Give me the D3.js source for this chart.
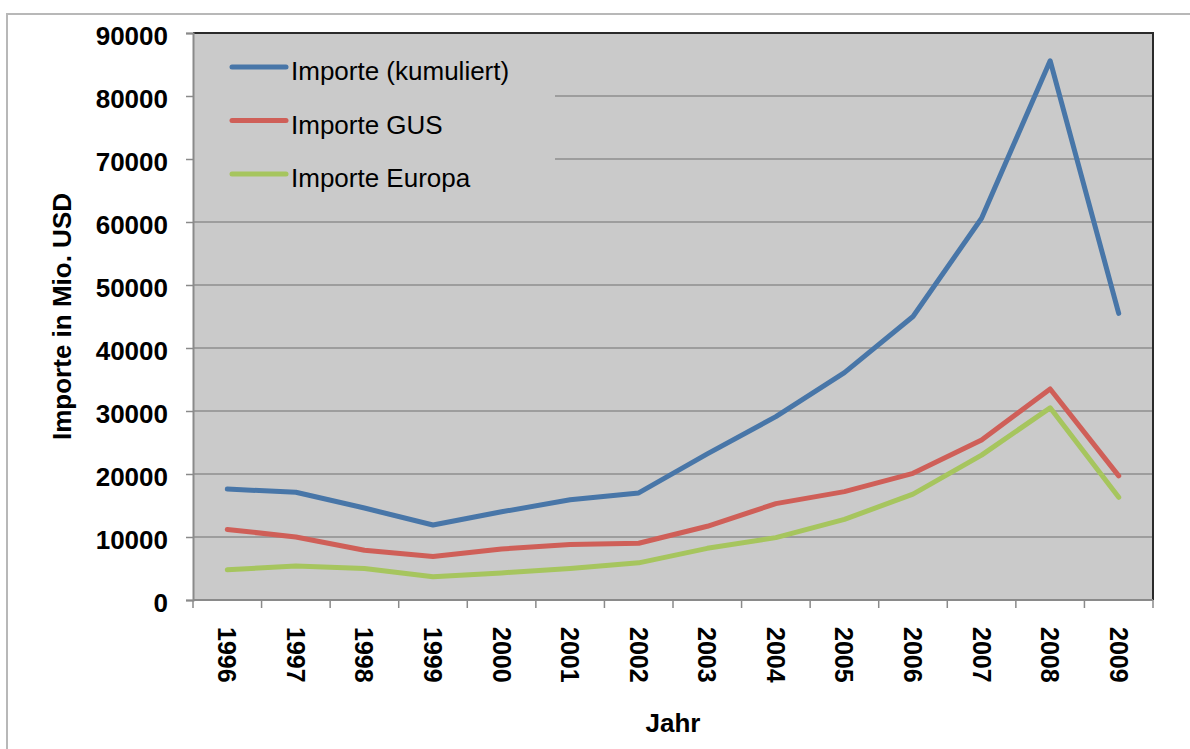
<!DOCTYPE html>
<html>
<head>
  <meta charset="utf-8">
  <title>Importe</title>
  <script src="https://d3js.org/d3.v7.min.js"></script>
  <style>
    body { margin: 0; background: #fff; }
    svg { display: block; font-family: "Liberation Sans", Arial, sans-serif; }
    .tick text { fill: #000; font-weight: bold; }
  </style>
</head>
<body>
  <svg width="1190" height="749"></svg>
  <script>
    const years = ["1996", "1997", "1998", "1999", "2000", "2001", "2002",
                   "2003", "2004", "2005", "2006", "2007", "2008", "2009"];
    const kumuliert = [17600, 17100, 14600, 11900, 14000, 15900, 17000,
                       23200, 29100, 36100, 45000, 60600, 85600, 45500];
    const gus = [11200, 10000, 7900, 6900, 8100, 8800, 9000,
                 11700, 15300, 17200, 20100, 25400, 33500, 19700];
    const europa = [4800, 5400, 5000, 3700, 4300, 5000, 5900,
                    8200, 9900, 12800, 16800, 23000, 30500, 16300];
    const yTicks = [0, 10000, 20000, 30000, 40000, 50000, 60000, 70000, 80000, 90000];

    const series = [
      { name: "Importe (kumuliert)", values: kumuliert, color: "#4876a8" },
      { name: "Importe GUS", values: gus, color: "#cf5f58" },
      { name: "Importe Europa", values: europa, color: "#a6c55e" }
    ];

    const svg = d3.select("svg");
    const pLeft = 193, pRight = 1153, pTop = 33, pBottom = 600;

    const x = d3.scaleBand().domain(years).range([pLeft, pRight]);
    const y = d3.scaleLinear().domain([0, 90000]).range([pBottom, pTop]);

    // outer frame
    svg.append("rect")
      .attr("x", 7).attr("y", 14).attr("width", 1300).attr("height", 900)
      .attr("fill", "#fff").attr("stroke", "#b8b8b8").attr("stroke-width", 2);

    // plot background
    svg.append("rect")
      .attr("x", pLeft).attr("y", pTop)
      .attr("width", pRight - pLeft).attr("height", pBottom - pTop)
      .attr("fill", "#cacaca");

    // gridlines
    svg.append("g").selectAll("line")
      .data(yTicks.filter(d => d > 0))
      .join("line")
      .attr("x1", pLeft).attr("x2", pRight)
      .attr("y1", d => y(d)).attr("y2", d => y(d))
      .attr("stroke", "#8e8e8e").attr("stroke-width", 1.5);

    // legend box hides gridlines behind it
    svg.append("rect")
      .attr("x", pLeft + 1).attr("y", pTop + 1)
      .attr("width", 361).attr("height", 168)
      .attr("fill", "#cacaca");

    // top and right border
    svg.append("path")
      .attr("d", `M${pLeft},${pTop}H${pRight}V${pBottom}`)
      .attr("fill", "none").attr("stroke", "#2a2a2a").attr("stroke-width", 2);

    // y axis
    const yAxis = svg.append("g")
      .attr("transform", `translate(${pLeft},0)`)
      .call(d3.axisLeft(y).tickValues(yTicks).tickFormat(d3.format("d"))
        .tickSize(7).tickPadding(18));
    yAxis.select(".domain").attr("stroke", "#8a8a8a").attr("stroke-width", 2);
    yAxis.selectAll(".tick line").attr("stroke", "#8a8a8a").attr("stroke-width", 1.5);
    yAxis.selectAll(".tick text").attr("font-size", 26).attr("dy", "0.45em");

    // x axis: ticks at category boundaries
    const xg = svg.append("g");
    xg.append("line")
      .attr("x1", pLeft).attr("x2", pRight)
      .attr("y1", pBottom).attr("y2", pBottom)
      .attr("stroke", "#8a8a8a").attr("stroke-width", 2);
    xg.selectAll(".xt")
      .data(years.concat(["end"]))
      .join("line")
      .attr("class", "xt")
      .attr("x1", (d, i) => pLeft + i * x.step())
      .attr("x2", (d, i) => pLeft + i * x.step())
      .attr("y1", pBottom).attr("y2", pBottom + 8)
      .attr("stroke", "#8a8a8a").attr("stroke-width", 1.5);
    xg.selectAll(".xl")
      .data(years)
      .join("text")
      .attr("class", "xl")
      .attr("transform", d => `translate(${x(d) + x.bandwidth() / 2},627) rotate(90)`)
      .attr("dy", "0.36em")
      .attr("font-size", 25).attr("font-weight", "bold")
      .text(d => d);

    // lines
    const line = d3.line()
      .x((d, i) => x(years[i]) + x.bandwidth() / 2)
      .y(d => y(d));

    svg.append("g").selectAll("path")
      .data(series)
      .join("path")
      .attr("d", d => line(d.values))
      .attr("fill", "none")
      .attr("stroke", d => d.color)
      .attr("stroke-width", 5)
      .attr("stroke-linejoin", "round")
      .attr("stroke-linecap", "round");

    // legend
    const lg = svg.append("g").selectAll("g")
      .data(series)
      .join("g")
      .attr("transform", (d, i) => `translate(232,${67 + i * 53.5})`);
    lg.append("line")
      .attr("x1", 0).attr("x2", 54)
      .attr("stroke", d => d.color).attr("stroke-width", 5)
      .attr("stroke-linecap", "round");
    lg.append("text")
      .attr("x", 59).attr("y", 13)
      .attr("font-size", 26)
      .text(d => d.name);

    // axis titles
    svg.append("text")
      .attr("x", (pLeft + pRight) / 2).attr("y", 732)
      .attr("text-anchor", "middle")
      .attr("font-size", 26).attr("font-weight", "bold")
      .text("Jahr");

    svg.append("text")
      .attr("transform", `translate(71,${(pTop + pBottom) / 2}) rotate(-90)`)
      .attr("text-anchor", "middle")
      .attr("font-size", 26).attr("font-weight", "bold")
      .text("Importe in Mio. USD");
  </script>
</body>
</html>
